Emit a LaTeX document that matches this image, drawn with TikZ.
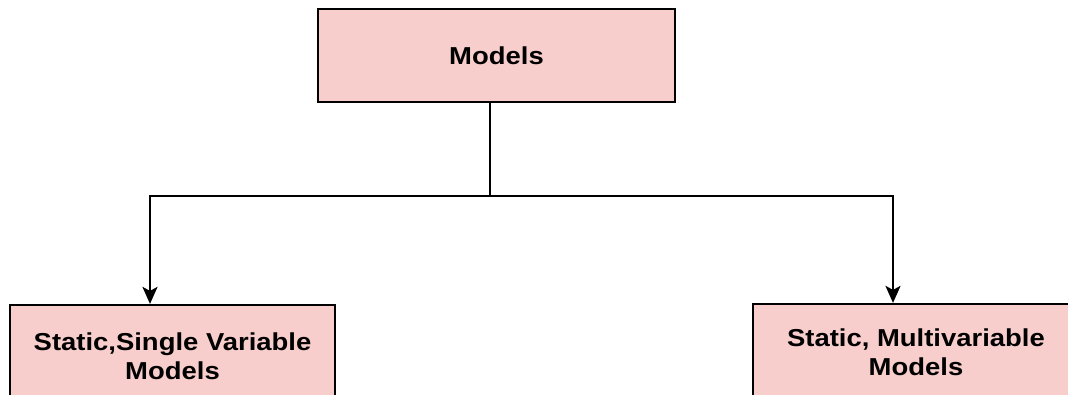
\documentclass[tikz,border=0pt]{standalone}
\usepackage{fontspec}
\setmainfont[FakeStretch=1.12]{Liberation Sans}
\usetikzlibrary{arrows.meta}
\definecolor{boxpink}{RGB}{248,206,204}
\tikzset{
  modelbox/.style={draw=black, line width=2.2pt, fill=boxpink, align=center,
    inner sep=0pt, font=\fontsize{24.5}{29}\selectfont\bfseries},
  link/.style={line width=2.2pt},
  arrow/.style={link, -{Stealth[length=17pt,width=15pt,inset=4pt]}}
}

\begin{document}
\begin{tikzpicture}[x=1pt,y=-1pt]
      \useasboundingbox (0,0) rectangle (1068,395);
      \clip (0,0) rectangle (1068,395);
      \draw
        (496.5,55.5) node[modelbox, minimum width=357pt, minimum height=93pt] (models) {Models}
        (172.5,356) node[modelbox, minimum width=325pt, minimum height=102pt] (single) {Static,Single Variable\\Models}
        (916,352) node[modelbox, minimum width=326pt, minimum height=96pt] (multi) {Static, Multivariable\\Models};
      \coordinate (split) at (490,196);
      \begin{scope}[link]
        \draw (split |- models.south) to (split);
        \draw[arrow] (split) -| ([xshift=-22.5pt]single.north);
        \draw[arrow] (split) -| ([xshift=-23pt]multi.north);
      \end{scope}
    \end{tikzpicture}
\end{document}
